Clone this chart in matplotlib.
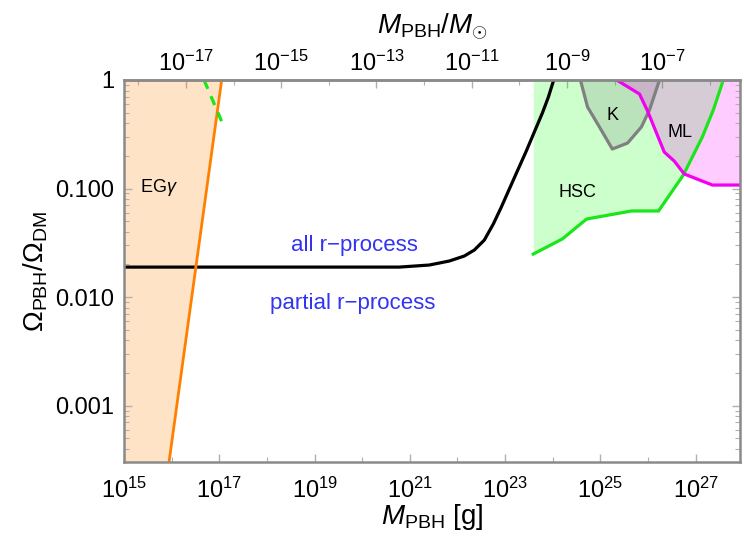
import numpy as np
import matplotlib
matplotlib.use('Agg')
import matplotlib.pyplot as plt
from matplotlib.ticker import FixedLocator, FixedFormatter, NullFormatter

plt.rcParams['font.family'] = ['Liberation Sans', 'DejaVu Sans']
plt.rcParams['mathtext.fontset'] = 'custom'
plt.rcParams['mathtext.rm'] = 'Liberation Sans'
plt.rcParams['mathtext.it'] = 'Liberation Sans:italic'
plt.rcParams['mathtext.bf'] = 'Liberation Sans:bold'

MSUN = 1.989e33

# ---- data (log10 of mass in g, log10 of fraction) ----
egam_logM = [15.945, 17.05]
egam_logf = [-3.52, 0.0]
egam_dash_logM = [16.68, 17.10]
egam_dash_logf = [0.0, -0.433]

rproc_logM = [15.0, 20.777, 21.408, 21.828, 22.143, 22.353, 22.563, 22.752, 22.920,
              23.088, 23.256, 23.445, 23.613, 23.782, 23.908, 24.02]
rproc_logf = [-1.724, -1.724, -1.705, -1.668, -1.622, -1.567, -1.475, -1.327, -1.171,
              -1.005, -0.839, -0.654, -0.479, -0.304, -0.157, 0.0]

hsc_logM = [23.59, 24.20, 24.71, 25.65, 26.22, 26.74, 27.14, 27.37, 27.58]
hsc_logf = [-1.604, -1.465, -1.281, -1.207, -1.207, -0.876, -0.525, -0.276, 0.0]

k_logM = [24.58, 24.73, 24.98, 25.25, 25.57, 25.86, 26.03, 26.24]
k_logf = [0.0, -0.249, -0.433, -0.636, -0.581, -0.433, -0.276, 0.0]

ml_logM = [25.34, 25.82, 25.99, 26.34, 26.55, 26.76, 27.35, 27.93]
ml_logf = [0.0, -0.129, -0.286, -0.664, -0.747, -0.866, -0.968, -0.968]

xtick_exp = [15, 17, 19, 21, 23, 25, 27]
ytick_vals = [0.001, 0.01, 0.1, 1.0]
ytick_labels = ['0.001', '0.010', '0.100', '1']
top_tick_exp = [-17, -15, -13, -11, -9, -7]

def p(a):
    return 10.0 ** np.asarray(a, dtype=float)

XMIN, XMAX = 1e15, 10 ** 27.93
YMIN, YMAX = 10 ** -3.52, 1.0

fig = plt.figure(figsize=(7.44, 5.37), dpi=100)
ax = fig.add_axes([124 / 744, 75 / 537, 616 / 744, 382 / 537])
ax.set_xscale('log')
ax.set_yscale('log')
ax.set_xlim(XMIN, XMAX)
ax.set_ylim(YMIN, YMAX)

# EG gamma
ax.fill_betweenx(p(egam_logf), XMIN, p(egam_logM), color=(1.0, 0.5, 0.0), alpha=0.22, lw=0)
# HSC
ax.fill_between(p(hsc_logM), p(hsc_logf), YMAX, color=(0.0, 1.0, 0.0), alpha=0.2, lw=0)
ax.plot(p(hsc_logM), p(hsc_logf), color=(0.1, 0.9, 0.1), lw=2.3, solid_joinstyle='miter')
# K
ax.fill_between(p(k_logM), p(k_logf), YMAX, color=(0.5, 0.5, 0.5), alpha=0.22, lw=0)
ax.plot(p(k_logM), p(k_logf), color=(0.5, 0.5, 0.5), lw=2.3)
# ML
ax.fill_between(p(ml_logM), p(ml_logf), YMAX, color=(1.0, 0.0, 1.0), alpha=0.2, lw=0)
ax.plot(p(ml_logM), p(ml_logf), color=(0.95, 0.0, 0.95), lw=2.3)
# r-process line
ax.plot(p(rproc_logM), p(rproc_logf), color='black', lw=2.3, solid_capstyle='butt',
        solid_joinstyle='round')
# EG gamma lines
ax.plot(p(egam_logM), p(egam_logf), color=(1.0, 0.5, 0.0), lw=2.0)
ax.plot(p(egam_dash_logM), p(egam_dash_logf), color=(0.1, 0.9, 0.1), lw=2.3,
        dashes=(3, 2.5))

# texts
ax.text(10 ** 15.74, 10 ** -0.995, r'EG$\gamma$', fontsize=13, ha='center', va='center')
ax.text(10 ** 24.52, 10 ** -1.041, 'HSC', fontsize=13, ha='center', va='center')
ax.text(10 ** 25.25, 10 ** -0.323, 'K', fontsize=13, ha='center', va='center')
ax.text(10 ** 26.68, 10 ** -0.488, 'ML', fontsize=13, ha='center', va='center')
blue = (0.2, 0.2, 0.95)
ax.text(10 ** 19.84, 10 ** -1.521, 'all r\u2212process', fontsize=16, color=blue,
        ha='center', va='center')
ax.text(10 ** 19.81, 10 ** -2.055, 'partial r\u2212process', fontsize=16, color=blue,
        ha='center', va='center')

# spines & ticks
frame_col = '#8a8a8a'
for s in ax.spines.values():
    s.set_color(frame_col)
    s.set_linewidth(1.8)

ax.xaxis.set_major_locator(FixedLocator([10.0 ** e for e in xtick_exp]))
ax.xaxis.set_major_formatter(FixedFormatter([r'$10^{%d}$' % e for e in xtick_exp]))
ax.xaxis.set_minor_locator(FixedLocator([10.0 ** e for e in range(16, 28, 2)]))
ax.xaxis.set_minor_formatter(NullFormatter())

ax.yaxis.set_major_locator(FixedLocator(ytick_vals))
ax.yaxis.set_major_formatter(FixedFormatter(ytick_labels))
yminor = [m * 10.0 ** e for e in range(-4, 0) for m in range(2, 10)]
ax.yaxis.set_minor_locator(FixedLocator(yminor))
ax.yaxis.set_minor_formatter(NullFormatter())

tick_col = '#b0b0b0'
ax.tick_params(which='both', direction='in', colors=tick_col, labelcolor='black',
               top=False, right=True, labelsize=17)
ax.tick_params(which='major', length=6, width=1.0)
ax.tick_params(which='minor', length=3.5, width=0.8)
ax.tick_params(axis='x', which='major', pad=11)
ax.tick_params(axis='y', which='major', pad=7)

sec = ax.secondary_xaxis('top', functions=(lambda x: x / MSUN, lambda x: x * MSUN))
sec.xaxis.set_major_locator(FixedLocator([10.0 ** e for e in top_tick_exp]))
sec.xaxis.set_major_formatter(FixedFormatter([r'$10^{%d}$' % e for e in top_tick_exp]))
sec.xaxis.set_minor_locator(FixedLocator([10.0 ** e for e in range(-18, -5, 2)]))
sec.xaxis.set_minor_formatter(NullFormatter())
sec.tick_params(which='both', direction='in', colors=tick_col, labelcolor='black', labelsize=17)
sec.tick_params(which='major', length=6, width=1.0, pad=3)
sec.tick_params(which='minor', length=3.5, width=0.8)
sec.spines['top'].set_color(frame_col)
sec.spines['top'].set_linewidth(1.8)

fig.text(432 / 744, 1 - 27 / 537, r'$M_{\mathrm{PBH}}/M_{\odot}$', fontsize=20,
         ha='center', va='center')

ax.set_xlabel(r'$M_{\mathrm{PBH}}$ [g]', fontsize=20, labelpad=0)
ax.set_ylabel(r'$\Omega_{\mathrm{PBH}}/\Omega_{\mathrm{DM}}$', fontsize=20, labelpad=4)

fig.savefig('out.png', dpi=100)
